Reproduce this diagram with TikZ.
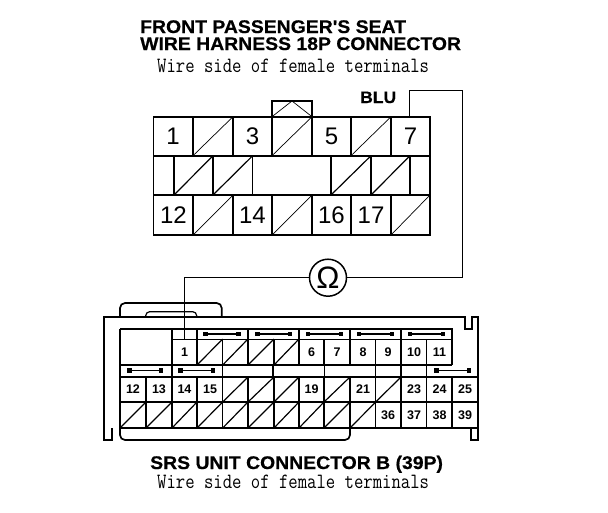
\documentclass[tikz,border=0pt]{standalone}
\usepackage{fontspec}
\newfontfamily\titlefont[FakeStretch=1.06,FakeBold=0.5]{Liberation Sans Bold}
\newfontfamily\digitfont{Liberation Sans}
\newfontfamily\ohmfont{Liberation Sans}
\tikzset{
	frameline/.style={line width=1.7pt},
	cellline/.style={line width=1.2pt},
	thinline/.style={line width=0.7pt},
	wire/.style={line width=1pt},
	titletext/.style={anchor=base west,inner sep=0pt,font=\fontsize{18.3}{18}\selectfont\titlefont},
	sidetext/.style={anchor=base west,inner sep=0pt,font=\fontsize{18.2}{18}\selectfont\ttfamily},
	bignum/.style={inner sep=0pt,font=\fontsize{24}{24}\selectfont\digitfont},
	smallnum/.style={inner sep=0pt,font=\fontsize{12.5}{13}\selectfont\digitfont\bfseries},
	ohmring/.style={draw,circle,line width=1.5pt,minimum size=37pt,inner sep=0pt,font=\fontsize{31}{31}\selectfont\ohmfont},
	busbar/.style={line width=1.2pt,{Square[length=4.5pt,width=4.5pt]}-{Square[length=4.5pt,width=4.5pt]}}
}
\usetikzlibrary{arrows.meta}
\begin{document}
\begin{tikzpicture}[x=1pt,y=-1pt]
	\useasboundingbox (0,0) rectangle (608,512);
	% titles
	\node[titletext] (title1) at (140,33) {FRONT PASSENGER'S SEAT};
	\node[titletext] (title2) at (140,50) {WIRE HARNESS 18P CONNECTOR};
	\node[sidetext] (side1) at (157,72) {\scalebox{1}[1.2]{Wire side of female terminals}};
	\node[titletext,font=\fontsize{16.5}{17}\selectfont\titlefont] (blu) at (360,103) {BLU};
	\node[titletext] (title3) at (150,469) {SRS UNIT CONNECTOR B (39P)};
	\node[sidetext] (side2) at (157,488) {\scalebox{1}[1.2]{Wire side of female terminals}};

	% 18P connector
	\draw[frameline] (272,116.7) -- (272,100.7) -- (312,100.7) -- (312,116.7);
	\draw[thinline] (272,116.7) -- (292,101) -- (312,116.7);
	\draw[frameline] (153.5,116.7) rectangle (430,235);
	\draw[frameline] (153.5,155.7) -- (430,155.7);
	\draw[frameline] (153.5,195) -- (430,195);
	\foreach \x in {193,233,272,312,351,391} {
		\draw[cellline] (\x,116.7) -- (\x,155.7);
	}
	\foreach \x in {193,233,272,312,351,391} {
		\draw[cellline] (\x,195) -- (\x,235);
	}
	\foreach \x in {174,213,331,371,410} {
		\draw[cellline] (\x,155.7) -- (\x,195);
	}
	\draw[thinline] (252.7,155.7) -- (252.7,195);
	\foreach \x/\xx in {193/233,272/312,351/391} {
		\draw[thinline] (\x,155.7) -- (\xx,116.7);
	}
	\foreach \x/\xx in {193/233,272/312,391/430} {
		\draw[thinline] (\x,235) -- (\xx,195);
	}
	\foreach \x/\xx in {174/213,213/252.7,331/371,371/410} {
		\draw[cellline] (\x,195) -- (\xx,155.7);
	}
	\foreach \x/\t in {173/1,252.5/3,331.5/5,410.5/7} {
		\node[bignum] (up\t) at (\x,136.5) {\t};
	}
	\foreach \x/\t in {173.5/12,252.5/14,331.5/16,371/17} {
		\node[bignum] (up\t) at (\x,215.5) {\t};
	}

	% 39P connector
	\draw[frameline,rounded corners=5pt] (120,316.7) -- (120,303) -- (221.7,303) -- (221.7,316.7);
	\draw[cellline,rounded corners=4pt] (145.7,316.7) -- (145.7,311.7) -- (196.7,311.7) -- (196.7,316.7);
	\draw[frameline,rounded corners=5pt] (120,428) -- (120,440) -- (350,440) -- (350,428);
	\draw[frameline] (112,428) -- (112,440) -- (104,440) -- (104,316.7) -- (465,316.7) -- (465,329) -- (472,329) -- (472,316.7) -- (478,316.7) -- (478,440) -- (471,440) -- (471,428);
	\draw[cellline] (120,329) -- (452,329) -- (452,365);
	\draw[cellline] (120,329) -- (120,428);
	\draw[thinline] (172,339) -- (452,339);
	\draw[cellline] (120,365) -- (452,365);
	\foreach \y in {377,402,428} {
		\draw[cellline] (120,\y) -- (478,\y);
	}
	\foreach \x in {172,197,248,299,350,401} {
		\draw[cellline] (\x,329) -- (\x,339);
	}
	\foreach \x in {172,197,222.7,248,274,299,324,350,375.7,401,426.7} {
		\draw[cellline] (\x,339) -- (\x,365);
	}
	\foreach \x in {172,222.7,273,375.7,401,426.7} {
		\draw[cellline] (\x,365) -- (\x,377);
	}
	\draw[thinline] (324,365) -- (324,377);
	\foreach \x in {146,172,197,222.7,248,274,299,324,350,375.7,401,426.7,452} {
		\draw[cellline] (\x,377) -- (\x,428);
	}
	\foreach \x/\xx in {197/222.7,222.7/248,248/274,274/299} {
		\draw[cellline] (\x,365) -- (\xx,339);
	}
	\foreach \x/\xx in {222.7/248,248/274,274/299,324/350,375.7/401} {
		\draw[cellline] (\x,402) -- (\xx,377);
	}
	\foreach \x/\xx in {120/146,146/172,172/197,197/222.7,222.7/248,248/274,274/299,299/324,324/350,350/375.7} {
		\draw[cellline] (\x,428) -- (\xx,402);
	}
	\foreach \x/\xx in {203/240.7,255/292,305.7/343,356.7/394,407.7/445} {
		\draw[busbar] (\x,334) -- (\xx,334);
	}
	\foreach \x/\xx in {127/163,178/215,434/471} {
		\draw[busbar] (\x,370.5) -- (\xx,370.5);
	}
	\foreach \x/\t in {184.5/1,311.5/6,337/7,363/8,388/9,414/10,439.5/11} {
		\node[smallnum] (lo\t) at (\x,352.5) {\t};
	}
	\foreach \x/\t in {133/12,159/13,184.5/14,210/15,311.5/19,363/21,414/23,439.5/24,465/25} {
		\node[smallnum] (lo\t) at (\x,389.5) {\t};
	}
	\foreach \x/\t in {388/36,414/37,439.5/38,465/39} {
		\node[smallnum] (lo\t) at (\x,415.5) {\t};
	}

	% meter wire
	\coordinate (pinblu) at (409,116.7);
	\coordinate (bendA) at (409,90);
	\coordinate (bendB) at (462.3,90);
	\coordinate (bendC) at (462.3,277.7);
	\coordinate (bendD) at (184,277.7);
	\coordinate (pinone) at (184,339);
	\node[ohmring] (ohm) at (328,277.7) {Ω};
	\draw[wire] (pinblu) -- (bendA) -- (bendB) -- (bendC) -- (ohm);
	\draw[wire] (ohm) -- (bendD) -- (pinone);
\end{tikzpicture}
\end{document}
